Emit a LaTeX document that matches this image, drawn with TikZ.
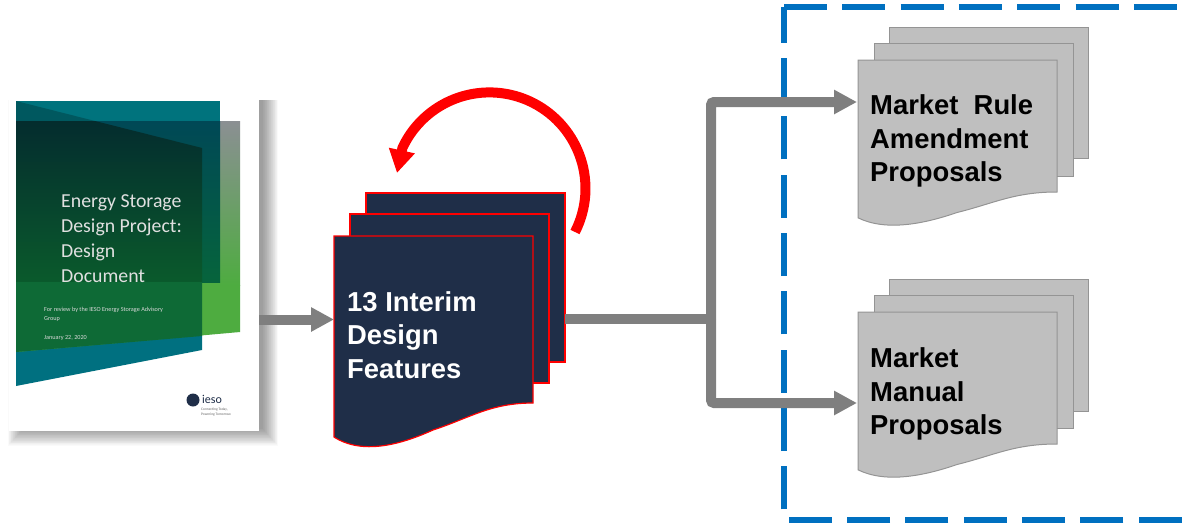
\documentclass[tikz,border=0pt]{standalone}
\usepackage{fontspec}
\setmainfont{Liberation Sans}
\newfontfamily\coverfont{Carlito}
\usetikzlibrary{arrows.meta, positioning, calc}
\definecolor{sheetnavy}{RGB}{31, 46, 72}
\definecolor{sheetgrey}{RGB}{191, 191, 191}
\definecolor{flowgrey}{RGB}{127, 127, 127}
\definecolor{boxblue}{RGB}{0, 112, 192}

% sheet with a wavy lower edge: node name, style, depth of the wave
\newcommand{\wavesheet}[3]{
  \draw[#2, shift={(#1.south east)}] (#1.north west) -- (#1.north east) -- (0,0)
    .. controls (-43,0) and (-63,15*#3) .. (-100,27*#3)
    .. controls (-133,42*#3) and (-171,52*#3) .. (-199,34*#3) -- cycle;
}

\begin{document}
\begin{tikzpicture}[
    x=1pt, y=-1pt,
    page/.style={rectangle, inner sep=0pt, outer sep=0pt, minimum width=250pt, minimum height=340pt},
    sheet/.style={rectangle, inner sep=0pt, outer sep=0pt, minimum width=199pt, anchor=north west},
    navysheet/.style={draw=red, line width=1.2pt, fill=sheetnavy},
    greysheet/.style={draw=black!42, line width=1pt, fill=sheetgrey},
    doclabel/.style={inner sep=0pt, anchor=west, align=left, font=\bfseries\fontsize{27.4}{33.5}\selectfont},
    covertitle/.style={inner sep=0pt, anchor=north west, align=left, text=white!88!black, font=\coverfont\fontsize{19.8}{25}\selectfont},
    coversmall/.style={inner sep=0pt, anchor=north west, align=left, text=white!85!black, font=\coverfont\fontsize{6.2}{9}\selectfont},
    flow/.style={draw=flowgrey, line width=10pt, -{Triangle[length=23pt, width=23pt]}, rounded corners=3pt},
    loop/.style={draw=red, line width=10pt, -{Triangle[length=23pt, width=25pt]}}
]
\useasboundingbox (0,0) rectangle (1184,525);

% Dashed frame, runs off the page on the right
\draw[boxblue, line width=6pt, dash pattern=on 43pt off 15.33pt] (784,7) -- (1193,7) -- (1193,520) -- (784,520) -- cycle;

% Design document
\foreach \s in {1,...,24}
  \node[page, fill=black, opacity=0.02, minimum width=238pt+1.33pt*\s, minimum height=328pt+0.73pt*\s] (shadow\s) at (143,264+0.37*\s) {};
\node[page, fill=white] (cover) at (134,261) {};

\fill[fill={rgb,255:red,0;green,112;blue,128}] (16,101) -- (202,148) -- (202,350) -- (16,386) -- cycle;
\shade[top color={rgb,255:red,139;green,143;blue,147}, bottom color={rgb,255:red,78;green,172;blue,64}] (16,121) rectangle (240,285);
\fill[fill={rgb,255:red,78;green,172;blue,64}] (16,285) -- (240,285) -- (240,332) -- (16,352) -- cycle;
\fill[fill={rgb,255:red,0;green,115;blue,125}] (16,101) rectangle (220,121);
\shade[top color={rgb,255:red,0;green,72;blue,86}, bottom color={rgb,255:red,6;green,100;blue,60}] (16,121) rectangle (220,282);
\fill[fill={rgb,255:red,0;green,88;blue,95}] (16,101) -- (95,121) -- (16,121) -- cycle;
\shade[top color={rgb,255:red,4;green,44;blue,46}, bottom color={rgb,255:red,10;green,90;blue,44}] (16,121) -- (95,121) -- (202,148) -- (202,282) -- (16,282) -- cycle;
\fill[fill={rgb,255:red,14;green,106;blue,54}] (16,282) -- (202,282) -- (202,336) -- (16,352) -- cycle;

\node[covertitle] (covername) at (61,194) {Energy Storage\\Design Project:\\Design\\Document};
\node[coversmall] (coverreview) at (44,307) {For review by the IESO Energy Storage Advisory\\Group};
\node[coversmall] (coverdate) at (44,335) {January 22, 2020};

% Logo
\node[circle, fill=sheetnavy, minimum size=13pt, inner sep=0pt] (logomark) at (193,400) {};
\node[inner sep=0pt, anchor=west, text=sheetnavy, font=\coverfont\fontsize{12}{12}\selectfont] (logoname) at (202,399) {ieso};
\node[inner sep=0pt, anchor=north west, align=left, text=black!60, font=\coverfont\fontsize{3.6}{4.6}\selectfont] (logotag) at (201,408) {Connecting Today,\\Powering Tomorrow.};

% Interim design features
\node[sheet, navysheet, minimum height=169pt] (interimback) at (366,193) {};
\node[sheet, navysheet, minimum height=169pt] (interimmid) at (350,214) {};
\node[sheet, minimum height=167pt] (interim) at (334,236) {};
\wavesheet{interim}{navysheet}{1}
\node[doclabel, text=white] (interimtext) at (347,335) {13 Interim\\Design\\Features};

% Rule amendments
\node[sheet, greysheet, minimum height=131pt] (ruleback) at (889,27) {};
\node[sheet, greysheet, minimum height=133pt] (rulemid) at (874,43) {};
\node[sheet, minimum height=132pt] (rule) at (858,60) {};
\wavesheet{rule}{greysheet}{0.76}
\node[doclabel] (ruletext) at (870,141) {Market\ \ Rule\\Amendment\\Proposals};

% Manuals
\node[sheet, greysheet, minimum height=132pt] (manualback) at (889,279) {};
\node[sheet, greysheet, minimum height=133pt] (manualmid) at (874,295) {};
\node[sheet, minimum height=132pt] (manual) at (858,312) {};
\wavesheet{manual}{greysheet}{0.76}
\node[doclabel] (manualtext) at (870,394) {Market\\Manual\\Proposals};

% Connectors
\coordinate (branch) at (711,319);
\coordinate (ruleport) at (857,102);
\coordinate (manualport) at (857,403);
\coordinate (loopstart) at (575,232);
\coordinate (looptip) at (397,173);

\draw[flow] (cover.east |- interim.west) -- (interim.west);
\draw[draw=flowgrey, line width=10pt] (interimback.east |- branch) -- (branch);
\draw[flow] (branch) |- (ruleport);
\draw[flow] (branch) |- (manualport);
\draw[loop] (loopstart) arc[start angle=-27, end angle=155, radius=96pt] -- (looptip);

\end{tikzpicture}
\end{document}
